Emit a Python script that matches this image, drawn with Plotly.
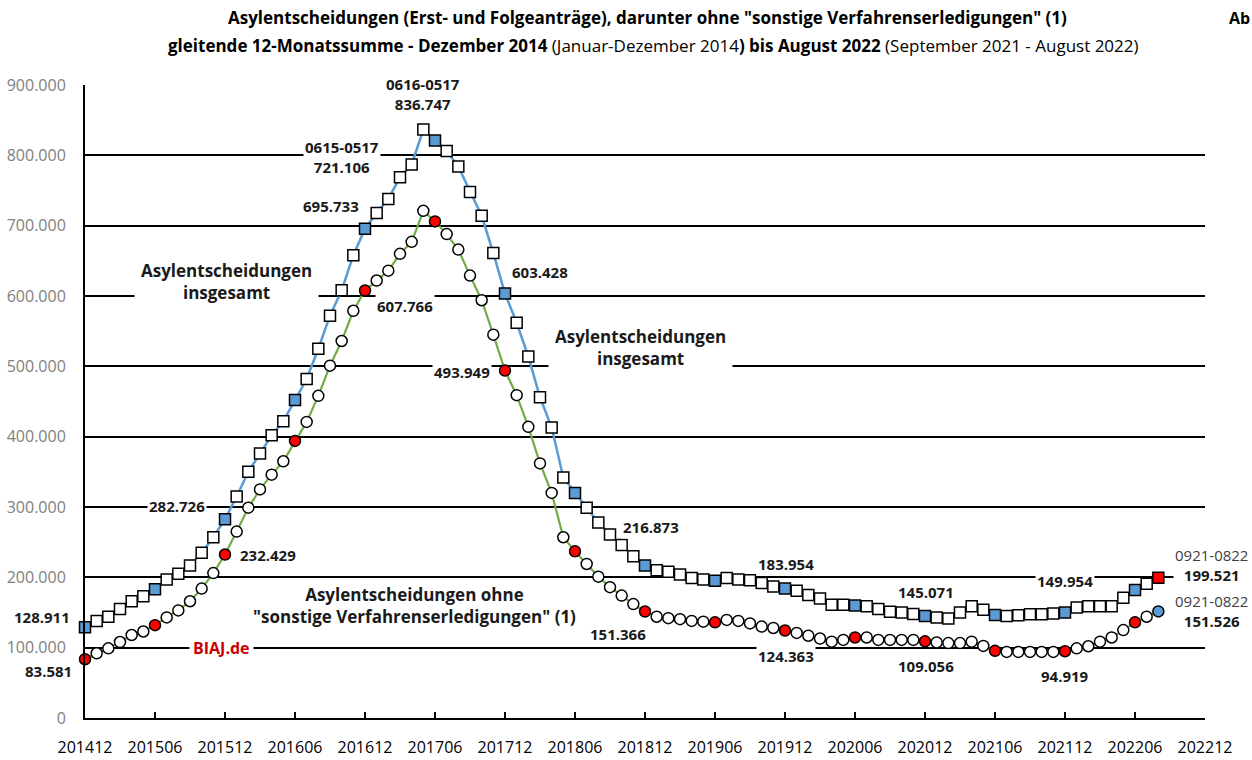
import plotly.graph_objects as go

# ---------------- data ----------------
months = []
for yr in range(2014, 2023):
    for mo in range(1, 13):
        if (yr == 2014 and mo < 12):
            continue
        months.append(f"{yr}{mo:02d}")
all_months = months  # 201412 .. 202212 (axis categories)

# gleitende 12-Monatssumme: Asylentscheidungen insgesamt (201412 .. 202208)
total = [
    128911,
    138000, 144000, 155000, 166000, 173000, 183000, 197000, 205000, 217000, 235000, 257000, 282726,
    315000, 350000, 376000, 402000, 422000, 452000, 482000, 525000, 572000, 608000, 658000, 695733,
    718000, 738000, 769000, 787000, 836747, 821000, 806000, 784000, 748000, 714000, 661000, 603428,
    562000, 514000, 456000, 413000, 342000, 320000, 299000, 278000, 261000, 246000, 230000, 216873,
    210000, 208000, 204000, 199000, 197000, 195000, 199000, 197000, 196000, 192000, 187000, 183954,
    181000, 175000, 170000, 161000, 161000, 160000, 159000, 155000, 151000, 150000, 148000, 145071,
    143000, 141500, 150000, 159000, 154000, 146500, 145000, 146000, 147500, 147500, 148500, 149954,
    157000, 159000, 159000, 159000, 171000, 182000, 191000, 199521,
]
# ohne "sonstige Verfahrenserledigungen"
without_other = [
    83581,
    92000, 99000, 108000, 118000, 123000, 132000, 143000, 153000, 166000, 184000, 206000, 232429,
    265000, 299000, 325000, 346000, 365000, 394000, 421000, 458000, 501000, 536000, 579000, 607766,
    622000, 636000, 660000, 677000, 721106, 706000, 688000, 666000, 629000, 594000, 545000, 493949,
    459000, 414000, 362000, 320000, 257000, 237000, 219000, 201000, 186000, 174000, 162000, 151366,
    144000, 142000, 140500, 138000, 137000, 136000, 139500, 138000, 134500, 130000, 128000, 124363,
    121000, 117000, 113000, 108500, 111000, 114500, 114500, 111000, 111000, 111000, 111000, 109056,
    107500, 106500, 106500, 108500, 102500, 95500, 94000, 94000, 94000, 94000, 94000, 94919,
    99000, 102000, 108500, 114500, 125000, 136000, 144000, 151526,
]
data_months = all_months[:len(total)]
tick_months = all_months[::6]

# labelled points: (month, xshift, yshift, prefix)
total_labels = [
    ("201412", -43, 10, None), ("201512", -48, 13, None), ("201612", -34, 23, None),
    ("201705", 0, 35, "0616-0517"), ("201712", 35, 22, None), ("201812", 6, 38, None),
    ("201912", 1, 25, None), ("202012", 1, 24, None), ("202112", 0, 32, None),
    ("202208", 53, 13, "0921-0822"),
]
other_labels = [
    ("201412", -37, -12, None), ("201512", 43, 0, None), ("201612", 40, -15, None),
    ("201705", -81, 54, "0615-0517"), ("201712", -43, -1, None), ("201812", -27, -22, None),
    ("201912", 1, -25, None), ("202012", 1, -25, None), ("202112", 0, -25, None),
    ("202208", 53, 0, "0921-0822"),
]

# ---------------- styling ----------------
BLUE = "#5B9BD5"
GREEN = "#70AD47"
RED = "#FF0000"
FONT = "Open Sans"

def fmt(v):
    return f"{v:,}".replace(",", ".")

def marker_fill(ms, highlight, last):
    out = []
    for i, m in enumerate(ms):
        if i == len(ms) - 1:
            out.append(last)
        elif m.endswith("06") or m.endswith("12"):
            out.append(highlight)
        else:
            out.append("white")
    return out

fig = go.Figure()
fig.add_trace(go.Scatter(
    x=data_months, y=total, mode="lines+markers",
    line=dict(color=BLUE, width=2.5),
    marker=dict(symbol="square", size=11, color=marker_fill(data_months, BLUE, RED),
                line=dict(color="black", width=1.5)),
    showlegend=False, cliponaxis=False, hoverinfo="skip",
))
fig.add_trace(go.Scatter(
    x=data_months, y=without_other, mode="lines+markers",
    line=dict(color=GREEN, width=2.2),
    marker=dict(symbol="circle", size=11, color=marker_fill(data_months, RED, BLUE),
                line=dict(color="black", width=1.5)),
    showlegend=False, cliponaxis=False, hoverinfo="skip",
))

annotations = []

def add_value_labels(series, labels):
    lookup = dict(zip(data_months, series))
    for m, dx, dy, prefix in labels:
        v = lookup[m]
        if prefix is None:
            txt = f"<b>{fmt(v)}</b>"
        elif prefix.startswith("0921"):
            txt = f"<span style='color:#404040'>{prefix}</span><br><b>{fmt(v)}</b>"
        else:
            txt = f"<b>{prefix}</b><br><b>{fmt(v)}</b>"
        annotations.append(dict(
            x=all_months.index(m), y=v, xref="x", yref="y", text=txt, showarrow=False,
            xshift=dx, yshift=dy, xanchor="center", yanchor="middle",
            font=dict(family=FONT, size=15, color="#1a1a1a"),
            bgcolor="white", borderpad=1,
        ))

add_value_labels(total, total_labels)
add_value_labels(without_other, other_labels)

L, R, T, B = 85, 1205, 85, 718

def px(xp, yp):
    return (xp - L) / (R - L), (B - yp) / (B - T)

def add_text(xp, yp, text, size=16, color="#1a1a1a", xanchor="center", bg="white", pad=1):
    x, y = px(xp, yp)
    d = dict(
        x=x, y=y, xref="paper", yref="paper", text=text, showarrow=False,
        xanchor=xanchor, yanchor="middle", font=dict(family=FONT, size=size, color=color),
        borderpad=pad,
    )
    if bg:
        d["bgcolor"] = bg
    annotations.append(d)

add_text(226, 281, "<b>Asylentscheidungen</b><br><b>insgesamt</b>", size=17, pad=6)
add_text(640, 347, "<b>Asylentscheidungen</b><br><b>insgesamt</b>", size=17, pad=6)
add_text(414, 605, "<b>Asylentscheidungen ohne</b><br><b>\"sonstige Verfahrenserledigungen\" (1)</b>", size=17, pad=3)
add_text(221, 648, "<b>BIAJ.de</b>", size=16, color="#CC0000", pad=3)

add_text(647, 18, "<b>Asylentscheidungen (Erst- und Folgeanträge), darunter ohne \"sonstige Verfahrenserledigungen\" (1)</b>",
         size=17, color="black", bg=None)
add_text(653, 46, "<b>gleitende 12-Monatssumme - Dezember 2014</b> (Januar-Dezember 2014<b>) bis August 2022</b> (September 2021 - August 2022)",
         size=17, color="black", bg=None)
add_text(1251, 18, "<b>Ab</b>", size=16, color="black", xanchor="right", bg=None, pad=0)

fig.update_layout(
    width=1252, height=760,
    margin=dict(l=L, r=1252 - R, t=T, b=760 - B, autoexpand=False),
    paper_bgcolor="white", plot_bgcolor="white",
    separators=",.",
    annotations=annotations,
    font=dict(family=FONT),
    hovermode=False,
)
fig.update_xaxes(
    type="category", categoryorder="array", categoryarray=all_months,
    range=[0, len(all_months) - 1], automargin=False,
    tickmode="array", tickvals=tick_months, ticktext=tick_months,
    ticks="inside", ticklen=6, tickwidth=2, tickcolor="black",
    showline=True, linecolor="black", linewidth=2,
    showgrid=False, zeroline=False,
    tickfont=dict(family=FONT, size=16, color="black"),
    ticklabelstandoff=14,
)
fig.update_yaxes(
    range=[0, 900000], tickmode="array", automargin=False,
    tickvals=[0, 100000, 200000, 300000, 400000, 500000, 600000, 700000, 800000, 900000],
    tickformat=",d",
    showline=True, linecolor="black", linewidth=2,
    showgrid=True, gridcolor="black", gridwidth=2,
    zeroline=False, ticks="",
    tickfont=dict(family=FONT, size=16, color="#808080"),
    ticklabelstandoff=14,
)

fig.write_html(
    "out.html",
    config={"displayModeBar": False, "staticPlot": True},
    post_script="document.body.style.margin='0';document.body.style.overflow='hidden';",
)
